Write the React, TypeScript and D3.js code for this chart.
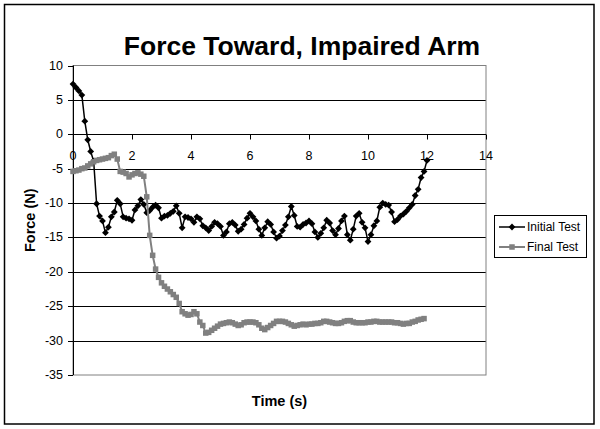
import * as React from "react";
import * as d3 from "d3";

const TITLE = "Force Toward, Impaired Arm";
const X_LABEL = "Time (s)";
const Y_LABEL = "Force (N)";
const SAMPLE_STEP = 0.1; // seconds between samples

// Force (N) sampled every 0.1 s from t = 0
const initialTest = [
  7.3, 6.8, 6.3, 5.7, 1.9, -0.8, -2.5, -3.9, -10.1, -11.9,
  -12.6, -14.3, -13.5, -12.0, -11.3, -9.6, -10.1, -12.0, -12.2, -12.3,
  -12.5, -11.0, -10.4, -9.5, -10.2, -11.4, -11.1, -10.6, -10.3, -10.7,
  -12.2, -11.9, -11.8, -11.5, -11.2, -10.4, -11.5, -13.6, -12.0, -12.1,
  -12.3, -12.8, -12.0, -12.3, -13.3, -13.6, -14.0, -13.4, -12.8, -13.0,
  -13.4, -14.7, -14.2, -13.0, -12.8, -13.2, -14.1, -13.8, -13.1, -12.2,
  -11.5, -12.0, -12.6, -13.8, -14.7, -13.6, -12.7, -13.1, -14.2, -15.1,
  -14.8, -14.0, -13.2, -12.0, -10.5, -11.8, -13.4, -13.5, -13.1, -12.9,
  -12.6, -13.0, -14.2, -15.0, -14.4, -13.6, -12.5, -12.9, -14.0, -14.6,
  -13.7, -12.6, -11.9, -14.6, -15.4, -13.8, -11.9, -11.5, -12.8, -13.6,
  -15.6, -14.6, -13.3, -12.6, -10.6, -10.0, -10.2, -10.3, -11.3, -12.7,
  -12.4, -11.9, -11.6, -11.2, -10.7, -10.2, -8.9, -8.0, -6.3, -5.4,
  -3.8,
];

const finalTest = [
  -5.4, -5.3, -5.2, -5.0, -4.9, -4.6, -4.3, -4.0, -3.8, -3.7,
  -3.6, -3.5, -3.4, -3.1, -2.9, -3.6, -5.4, -5.5, -5.7, -6.2,
  -5.9, -5.7, -5.6, -5.8, -6.1, -9.1, -14.7, -17.6, -19.6, -20.8,
  -21.6, -22.1, -22.5, -22.9, -23.3, -23.7, -24.6, -25.8, -26.1, -26.3,
  -26.2, -25.8, -26.1, -27.3, -27.8, -28.9, -28.8, -28.5, -28.2, -27.9,
  -27.6, -27.5, -27.4, -27.3, -27.4, -27.6, -27.8, -27.7, -27.4, -27.3,
  -27.3, -27.3, -27.4, -27.7, -28.2, -28.4, -28.1, -27.8, -27.5, -27.2,
  -27.2, -27.2, -27.3, -27.5, -27.7, -27.9, -27.8, -27.7, -27.6, -27.7,
  -27.6, -27.6, -27.5, -27.5, -27.4, -27.2, -27.2, -27.3, -27.4, -27.5,
  -27.5, -27.4, -27.2, -27.1, -27.1, -27.3, -27.4, -27.4, -27.4, -27.4,
  -27.3, -27.3, -27.2, -27.2, -27.3, -27.3, -27.3, -27.3, -27.3, -27.4,
  -27.4, -27.5, -27.6, -27.5, -27.5, -27.3, -27.2, -27.0, -26.9, -26.8,
];

const seriesNames = ["Initial Test", "Final Test"];
const xTicks = [0, 2, 4, 6, 8, 10, 12, 14];
const yTicks = [10, 5, 0, -5, -10, -15, -20, -25, -30, -35];

const FONT = "'Liberation Sans', Arial, sans-serif";
const GRAY = "#808080";
const SQ = 5.5; // square marker size

export default function App() {
  const ref = React.useRef<SVGSVGElement>(null);

  React.useEffect(() => {
    const svg = d3.select(ref.current);
    svg.selectAll("*").remove();
    svg.style("font-family", FONT);

    const left = 73, right = 486, top = 65.5, bottom = 375;
    const x = d3.scaleLinear().domain([0, 14]).range([left, right]);
    const y = d3.scaleLinear().domain([-35, 10]).range([bottom, top]);

    svg.append("rect").attr("width", 600).attr("height", 429).attr("fill", "white");
    // chart border
    svg.append("rect")
      .attr("x", 4.5).attr("y", 4.5).attr("width", 589.5).attr("height", 419.5)
      .attr("fill", "none").attr("stroke", "black").attr("stroke-width", 1.5);

    // gridlines
    svg.append("g").selectAll("line")
      .data(yTicks.filter((t) => t > -35 && t < 10 && t !== 0))
      .enter().append("line")
      .attr("x1", left).attr("x2", right)
      .attr("y1", (d) => Math.round(y(d)) + 0.5).attr("y2", (d) => Math.round(y(d)) + 0.5)
      .attr("stroke", "black").attr("stroke-width", 1);

    // plot border
    svg.append("rect")
      .attr("x", left).attr("y", top).attr("width", right - left).attr("height", bottom - top)
      .attr("fill", "none").attr("stroke", GRAY).attr("stroke-width", 1);

    // y axis
    const yAxis = svg.append("g");
    yAxis.append("line")
      .attr("x1", left + 0.5).attr("x2", left + 0.5).attr("y1", top).attr("y2", bottom)
      .attr("stroke", "black");
    yAxis.selectAll("line.tick").data(yTicks).enter().append("line")
      .attr("class", "tick")
      .attr("x1", left - 5).attr("x2", left)
      .attr("y1", (d) => Math.round(y(d)) + 0.5).attr("y2", (d) => Math.round(y(d)) + 0.5)
      .attr("stroke", "black");
    yAxis.selectAll("text").data(yTicks).enter().append("text")
      .attr("x", left - 10).attr("y", (d) => y(d))
      .attr("text-anchor", "end").attr("dominant-baseline", "central")
      .style("font-size", "12.5px").text((d) => d);

    // x axis, crossing at 0
    const y0 = Math.round(y(0)) + 0.5;
    const xAxis = svg.append("g");
    xAxis.append("line")
      .attr("x1", left).attr("x2", right).attr("y1", y0).attr("y2", y0)
      .attr("stroke", "black");
    xAxis.selectAll("line.tick").data(xTicks).enter().append("line")
      .attr("class", "tick")
      .attr("x1", (d) => Math.round(x(d)) + 0.5).attr("x2", (d) => Math.round(x(d)) + 0.5)
      .attr("y1", y0).attr("y2", y0 + 5)
      .attr("stroke", "black");
    xAxis.selectAll("text").data(xTicks).enter().append("text")
      .attr("x", (d) => x(d)).attr("y", y0 + 25)
      .attr("text-anchor", "middle")
      .style("font-size", "12.5px").text((d) => d);

    // series
    const line = d3.line<number>()
      .x((d, i) => x(i * SAMPLE_STEP))
      .y((d) => y(d));

    const diamond = (cx: number, cy: number, r: number) =>
      `M${cx},${cy - r}L${cx + r},${cy}L${cx},${cy + r}L${cx - r},${cy}Z`;

    const g1 = svg.append("g");
    g1.append("path").attr("d", line(initialTest))
      .attr("fill", "none").attr("stroke", "black").attr("stroke-width", 1.5);
    g1.selectAll("path.m").data(initialTest).enter().append("path")
      .attr("class", "m")
      .attr("d", (d, i) => diamond(x(i * SAMPLE_STEP), y(d), 3.4))
      .attr("fill", "black");

    const g2 = svg.append("g");
    g2.append("path").attr("d", line(finalTest))
      .attr("fill", "none").attr("stroke", GRAY).attr("stroke-width", 2);
    g2.selectAll("rect").data(finalTest).enter().append("rect")
      .attr("x", (d, i) => x(i * SAMPLE_STEP) - SQ / 2).attr("y", (d) => y(d) - SQ / 2)
      .attr("width", SQ).attr("height", SQ)
      .attr("fill", GRAY);

    // titles
    svg.append("text")
      .attr("x", 302).attr("y", 55)
      .attr("text-anchor", "middle")
      .style("font-size", "26.5px").style("font-weight", "bold")
      .text(TITLE);
    svg.append("text")
      .attr("x", (left + right) / 2).attr("y", 406)
      .attr("text-anchor", "middle")
      .style("font-size", "14.5px").style("font-weight", "bold")
      .text(X_LABEL);
    svg.append("text")
      .attr("transform", `translate(35 ${(top + bottom) / 2}) rotate(-90)`)
      .attr("text-anchor", "middle")
      .style("font-size", "14.5px").style("font-weight", "bold")
      .text(Y_LABEL);

    // legend
    const legend = svg.append("g");
    legend.append("rect")
      .attr("x", 494.5).attr("y", 215.5).attr("width", 92).attr("height", 42)
      .attr("fill", "white").attr("stroke", "black");
    seriesNames.forEach((name, i) => {
      const ly = 227 + i * 20;
      const color = i === 0 ? "black" : GRAY;
      legend.append("line")
        .attr("x1", 499).attr("x2", 525).attr("y1", ly).attr("y2", ly)
        .attr("stroke", color).attr("stroke-width", i === 0 ? 1.5 : 2);
      if (i === 0) {
        legend.append("path").attr("d", diamond(512, ly, 3.4)).attr("fill", color);
      } else {
        legend.append("rect").attr("x", 512 - SQ / 2).attr("y", ly - SQ / 2)
          .attr("width", SQ).attr("height", SQ).attr("fill", color);
      }
      legend.append("text")
        .attr("x", 527).attr("y", ly).attr("dominant-baseline", "central")
        .style("font-size", "12px").text(name);
    });
  }, []);

  return (
    <svg
      ref={ref}
      width={600}
      height={429}
      style={{ position: "absolute", left: 0, top: 0 }}
    />
  );
}
